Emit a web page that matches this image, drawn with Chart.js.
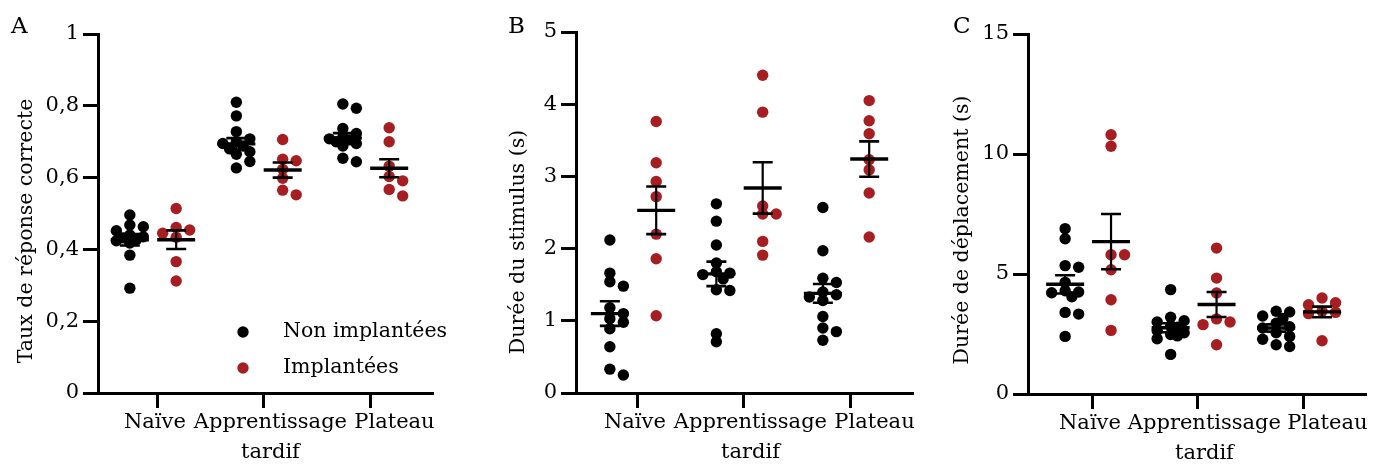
<!DOCTYPE html>
<html><head><meta charset="utf-8">
<script src="https://cdn.jsdelivr.net/npm/chart.js@4.4.1/dist/chart.umd.min.js"></script>
<style>
html,body{margin:0;padding:0;background:#fff;}
#wrap{position:relative;width:1384px;height:467px;overflow:hidden;background:#fff;}
.panel{position:absolute;top:0;height:467px;}
</style></head><body>
<div id="wrap">
<div class="panel" style="left:0;width:460px"><canvas id="cA"></canvas></div>
<div class="panel" style="left:460px;width:465px"><canvas id="cB"></canvas></div>
<div class="panel" style="left:925px;width:459px"><canvas id="cC"></canvas></div>
</div>
<script>
// ---------- DATA ----------
const categories = ['Naïve', ['Apprentissage', 'tardif'], 'Plateau'];
const seriesNames = ['Non implantées', 'Implantées'];

// Panel A : Taux de réponse correcte
const tauxNon = [
  [0.496, 0.468, 0.463, 0.452, 0.440, 0.435, 0.432, 0.428, 0.424, 0.418, 0.384, 0.292],
  [0.810, 0.772, 0.728, 0.708, 0.700, 0.695, 0.688, 0.680, 0.672, 0.665, 0.645, 0.627],
  [0.805, 0.793, 0.737, 0.723, 0.712, 0.708, 0.705, 0.700, 0.695, 0.688, 0.654, 0.644]
];
const tauxImp = [
  [0.514, 0.461, 0.454, 0.445, 0.434, 0.366, 0.312],
  [0.706, 0.651, 0.647, 0.623, 0.598, 0.565, 0.552],
  [0.739, 0.700, 0.632, 0.603, 0.591, 0.567, 0.549]
];
const tauxNonMean = [0.427, 0.694, 0.710];
const tauxNonSem  = [0.016, 0.016, 0.014];
const tauxImpMean = [0.427, 0.621, 0.626];
const tauxImpSem  = [0.026, 0.021, 0.025];

// Panel B : Durée du stimulus (s)
const stimNon = [
  [2.12, 1.66, 1.54, 1.48, 1.18, 1.10, 1.03, 0.98, 0.89, 0.64, 0.33, 0.25],
  [2.62, 2.38, 2.05, 1.80, 1.68, 1.66, 1.64, 1.58, 1.43, 1.42, 0.82, 0.71],
  [2.57, 1.97, 1.59, 1.53, 1.40, 1.36, 1.33, 1.28, 1.06, 0.90, 0.85, 0.73]
];
const stimImp = [
  [3.76, 3.19, 2.93, 2.72, 2.20, 1.86, 1.07],
  [4.40, 3.89, 2.59, 2.48, 2.48, 2.10, 1.91],
  [4.05, 3.77, 3.59, 3.23, 3.09, 2.77, 2.16]
];
const stimNonMean = [1.10, 1.65, 1.38];
const stimNonSem  = [0.17, 0.17, 0.13];
const stimImpMean = [2.53, 2.84, 3.24];
const stimImpSem  = [0.33, 0.355, 0.245];

// Panel C : Durée de déplacement (s)
const depNon = [
  [6.89, 6.47, 5.35, 5.28, 4.65, 4.30, 4.25, 4.22, 4.05, 3.40, 3.33, 2.40],
  [4.35, 3.20, 3.05, 3.00, 2.82, 2.78, 2.65, 2.55, 2.48, 2.42, 2.30, 1.65],
  [3.45, 3.42, 3.25, 3.15, 2.95, 2.80, 2.75, 2.55, 2.40, 2.28, 2.05, 1.98]
];
const depImp = [
  [10.80, 10.32, 5.80, 5.80, 5.18, 3.93, 2.65],
  [6.08, 4.83, 4.21, 3.13, 3.00, 2.89, 2.05],
  [4.00, 3.80, 3.72, 3.45, 3.40, 3.35, 2.22]
];
const depNonMean = [4.57, 2.76, 2.75];
const depNonSem  = [0.38, 0.19, 0.15];
const depImpMean = [6.35, 3.73, 3.42];
const depImpSem  = [1.15, 0.52, 0.22];

// ---------- STYLE / LAYOUT ----------
const FONT = "'DejaVu Serif', 'Liberation Serif', serif";
const BLACK = '#000000';
const RED = '#A61E22';
const OFF_NON = -0.255, OFF_IMP = 0.18;      // group offsets from category tick
const LABEL_SHIFT = [-0.02, 0.065, 0.23];     // category label offsets (as in the figure)

function fmtComma(v) {
  if (Math.abs(v - Math.round(v)) < 1e-9) return String(Math.round(v));
  return v.toFixed(1).replace('.', ',');
}

function buildPoints(groups, off) {
  const pts = [];
  groups.forEach((vals, i) => vals.forEach(v => pts.push({ x: i + 1 + off, y: v, base: i + 1 + off, cat: i })));
  return pts;
}

const meanSemPlugin = {
  id: 'meanSem',
  afterDatasetsDraw(chart, args, opts) {
    const { ctx } = chart; const x = chart.scales.x, y = chart.scales.y;
    ctx.save();
    ctx.strokeStyle = BLACK;
    ctx.lineCap = 'butt';
    (opts.groups || []).forEach(g => {
      g.means.forEach((m, i) => {
        const cx = x.getPixelForValue(i + 1 + g.offset);
        const ym = y.getPixelForValue(m);
        const yt = y.getPixelForValue(m + g.sems[i]);
        const yb = y.getPixelForValue(m - g.sems[i]);
        ctx.lineWidth = 2.2;
        ctx.beginPath(); ctx.moveTo(cx, yt); ctx.lineTo(cx, yb); ctx.stroke();
        ctx.lineWidth = 2.6;
        ctx.beginPath(); ctx.moveTo(cx - 10, yt); ctx.lineTo(cx + 10, yt);
        ctx.moveTo(cx - 10, yb); ctx.lineTo(cx + 10, yb); ctx.stroke();
        ctx.lineWidth = 3.4;
        ctx.beginPath(); ctx.moveTo(cx - 19, ym); ctx.lineTo(cx + 19, ym); ctx.stroke();
      });
    });
    ctx.restore();
  }
};

const annotPlugin = {
  id: 'annot',
  afterDraw(chart, args, opts) {
    const ctx = chart.ctx;
    ctx.save();
    ctx.fillStyle = BLACK;
    ctx.font = '23px ' + FONT;
    ctx.textAlign = 'left'; ctx.textBaseline = 'middle';
    ctx.fillText(opts.letter, opts.letterX, 27);
    ctx.font = '20.5px ' + FONT;
    ctx.save();
    ctx.translate(opts.titleX, opts.titleY);
    ctx.rotate(-Math.PI / 2);
    ctx.textAlign = 'center'; ctx.textBaseline = 'middle';
    ctx.fillText(opts.title, 0, 0);
    ctx.restore();
    if (opts.legend) {
      const items = [[seriesNames[0], BLACK, 332], [seriesNames[1], RED, 368]];
      items.forEach(([t, c, yy]) => {
        ctx.fillStyle = c;
        ctx.beginPath(); ctx.arc(243, yy, 5.7, 0, Math.PI * 2); ctx.fill();
        ctx.fillStyle = BLACK;
        ctx.textAlign = 'left'; ctx.textBaseline = 'middle';
        ctx.fillText(t, 283, yy);
      });
    }
    ctx.restore();
  }
};

function applySwarm(chart) {
  const xs = chart.scales.x, ys = chart.scales.y;
  const ppu = Math.abs(xs.getPixelForValue(2) - xs.getPixelForValue(1));
  const s = 13.5, minD = 7.5;
  const cands = [0, s, -s, s / 2, -s / 2];
  chart.data.datasets.forEach(ds => {
    const byCat = {};
    ds.data.forEach(p => { (byCat[p.cat] = byCat[p.cat] || []).push(p); });
    Object.values(byCat).forEach(pts => {
      const placed = [];
      pts.slice().sort((a, b) => b.y - a.y).forEach(p => {
        const py = ys.getPixelForValue(p.y);
        let best = 0, bestD = -1, chosen = null;
        for (const c of cands) {
          const d = placed.length ? Math.min(...placed.map(q => Math.hypot(q.dx - c, q.py - py))) : Infinity;
          if (d >= minD) { chosen = c; break; }
          if (d > bestD) { bestD = d; best = c; }
        }
        const dx = chosen === null ? best : chosen;
        placed.push({ dx, py });
        p.x = p.base + dx / ppu;
      });
    });
  });
  chart.update('none');
}

function makeChart(id, cfg) {
  const chart = new Chart(document.getElementById(id), {
    type: 'scatter',
    data: {
      datasets: [
        { label: seriesNames[0], data: buildPoints(cfg.non, OFF_NON), pointRadius: 5.7, pointHoverRadius: 5.7, backgroundColor: BLACK, borderWidth: 0 },
        { label: seriesNames[1], data: buildPoints(cfg.imp, OFF_IMP), pointRadius: 5.7, pointHoverRadius: 5.7, backgroundColor: RED, borderWidth: 0 }
      ]
    },
    options: {
      responsive: true, maintainAspectRatio: false, animation: false, events: [],
      layout: { padding: { left: 0, right: cfg.padRight, top: cfg.padTop, bottom: 0 } },
      plugins: {
        legend: { display: false }, tooltip: { enabled: false },
        meanSem: { groups: [
          { means: cfg.nonMean, sems: cfg.nonSem, offset: OFF_NON },
          { means: cfg.impMean, sems: cfg.impSem, offset: OFF_IMP }
        ] },
        annot: cfg.annot
      },
      scales: {
        x: {
          type: 'linear', position: 'bottom', weight: 0, min: cfg.xmin, max: cfg.xmax,
          afterBuildTicks(s) { s.ticks = [1, 2, 3].map(v => ({ value: v })); },
          afterFit(s) { s.height = 15; },
          ticks: { display: false },
          grid: { drawOnChartArea: false, color: BLACK, lineWidth: 3, tickLength: 15 },
          border: { color: BLACK, width: 3 }
        },
        xl: {
          type: 'linear', position: 'bottom', weight: 1, min: cfg.xmin, max: cfg.xmax,
          afterBuildTicks(s) { s.ticks = LABEL_SHIFT.map((d, i) => ({ value: i + 1 + d })); },
          afterFit(s) { s.height = cfg.bottomH - 15; },
          ticks: { callback: (v, i) => categories[i], color: BLACK, font: { family: FONT, size: 21, lineHeight: 1.42 }, padding: 0, maxRotation: 0, autoSkip: false },
          grid: { display: false, drawTicks: false },
          border: { display: false }
        },
        y: {
          min: 0, max: cfg.ymax,
          afterFit(s) { s.width = cfg.leftW; },
          ticks: { stepSize: cfg.step, callback: fmtComma, color: BLACK, font: { family: FONT, size: 21 }, padding: 4 },
          grid: { drawOnChartArea: false, color: BLACK, lineWidth: 3, tickLength: 15 },
          border: { color: BLACK, width: 3 }
        }
      }
    },
    plugins: [meanSemPlugin, annotPlugin]
  });
  applySwarm(chart);
  return chart;
}

makeChart('cA', {
  non: tauxNon, imp: tauxImp, nonMean: tauxNonMean, nonSem: tauxNonSem, impMean: tauxImpMean, impSem: tauxImpSem,
  ymax: 1, step: 0.2, leftW: 98, padRight: 28, padTop: 34, bottomH: 74, xmin: 0.446, xmax: 3.582,
  annot: { letter: 'A', letterX: 11, title: 'Taux de réponse correcte', titleX: 27, titleY: 231, legend: true }
});
makeChart('cB', {
  non: stimNon, imp: stimImp, nonMean: stimNonMean, nonSem: stimNonSem, impMean: stimImpMean, impSem: stimImpSem,
  ymax: 5, step: 1, leftW: 116, padRight: 13, padTop: 32, bottomH: 74, xmin: 0.427, xmax: 3.582,
  annot: { letter: 'B', letterX: 48, title: 'Durée du stimulus (s)', titleX: 59, titleY: 242, legend: false }
});
makeChart('cC', {
  non: depNon, imp: depImp, nonMean: depNonMean, nonSem: depNonSem, impMean: depImpMean, impSem: depImpSem,
  ymax: 15, step: 5, leftW: 103, padRight: 19, padTop: 34, bottomH: 73, xmin: 0.393, xmax: 3.587,
  annot: { letter: 'C', letterX: 28, title: 'Durée de déplacement (s)', titleX: 38, titleY: 230, legend: false }
});
</script>
</body></html>
